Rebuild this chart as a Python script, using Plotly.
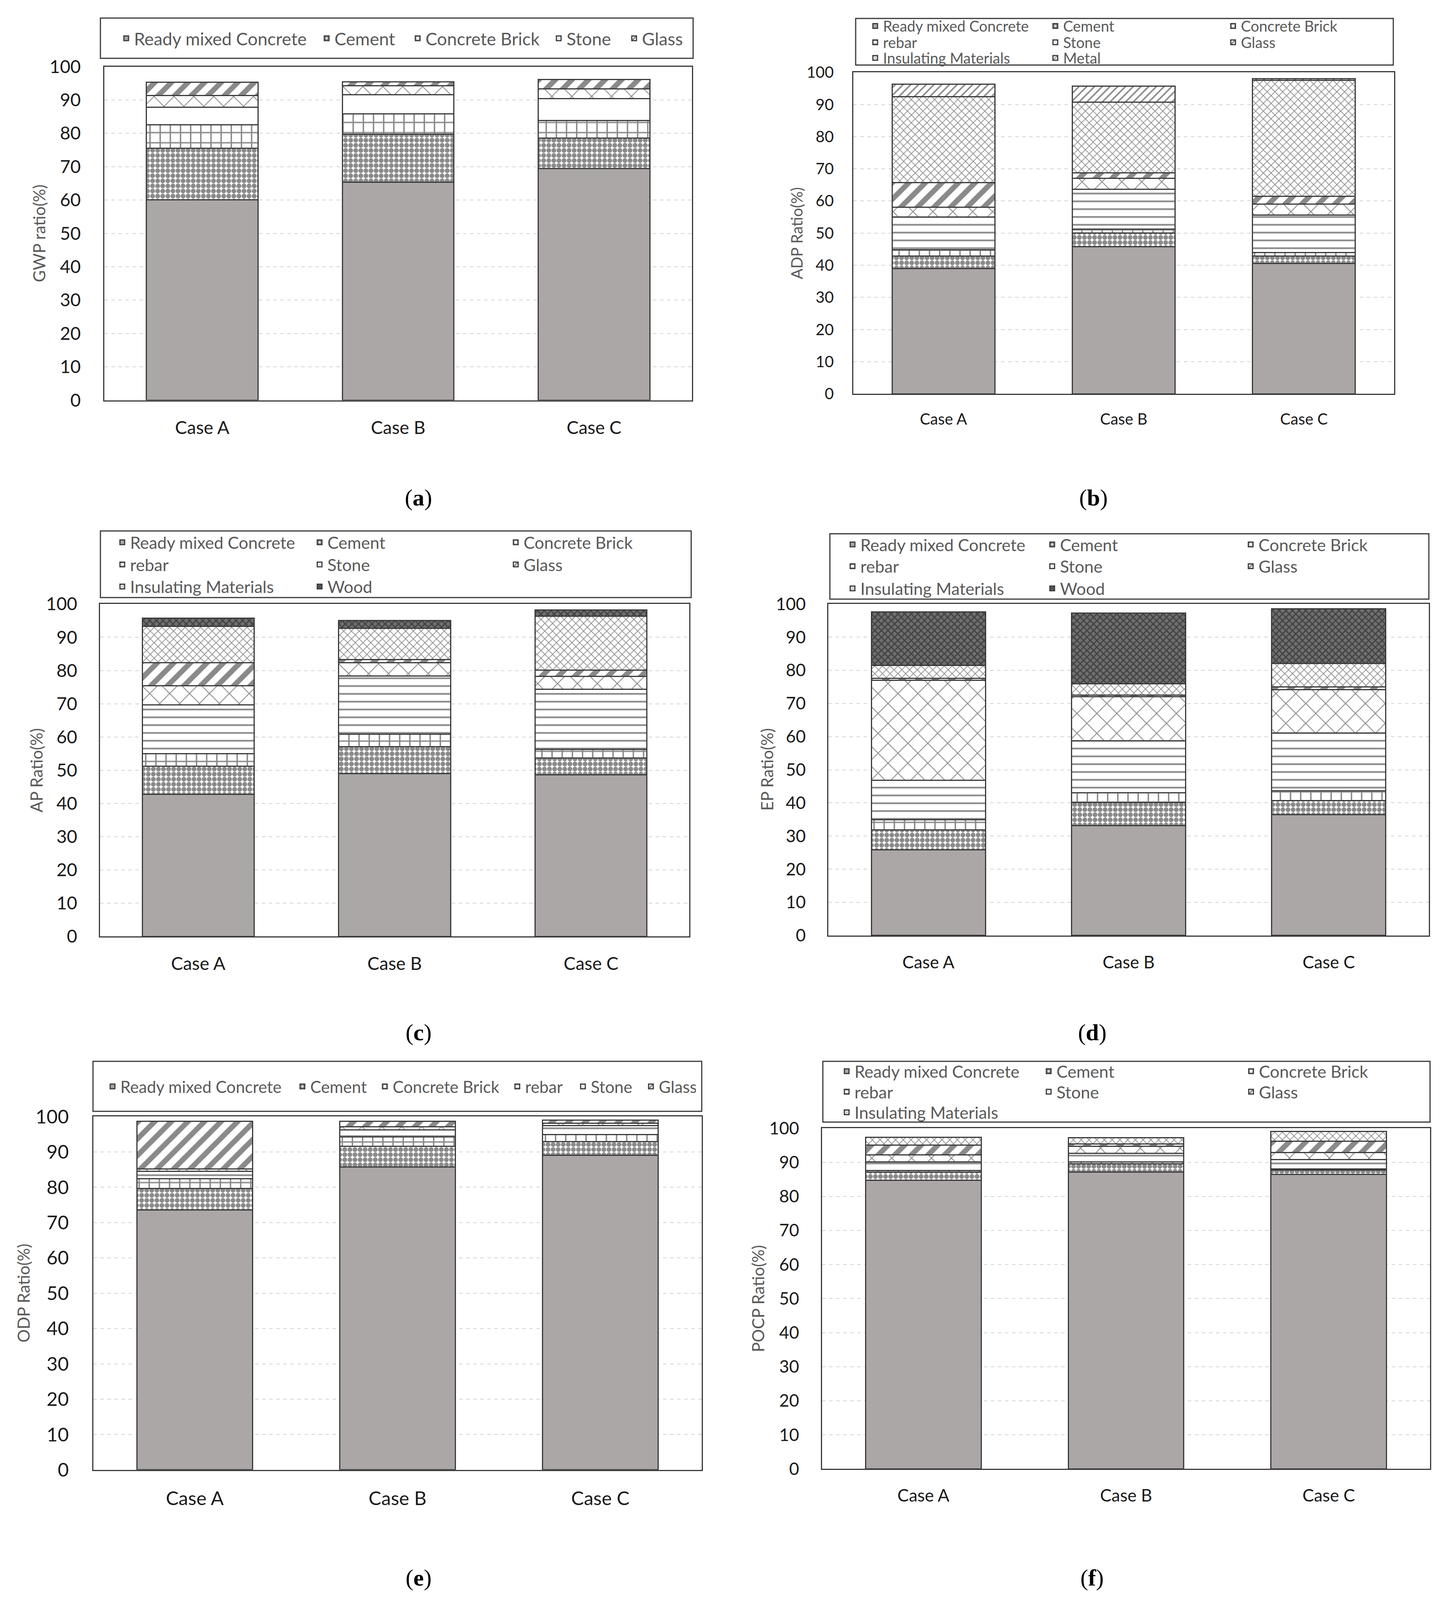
import plotly.graph_objects as go

W, H = 3706, 5213
cases = ["Case A", "Case B", "Case C"]

# ---------------- data (%) ----------------
gwp = {
    "Ready mixed Concrete": [60.1, 65.3, 69.5],
    "Cement": [15.4, 14.4, 9.1],
    "Concrete Brick": [7.1, 6.1, 5.3],
    "rebar": [5.2, 5.8, 6.5],          # white band, not listed in legend (a)
    "Stone": [3.5, 2.7, 2.9],
    "Glass": [4.0, 1.1, 2.8],
}
adp = {
    "Ready mixed Concrete": [39.0, 45.8, 40.6],
    "Cement": [3.8, 4.2, 2.2],
    "Concrete Brick": [2.0, 1.3, 1.2],
    "rebar": [10.2, 12.4, 11.6],
    "Stone": [3.1, 3.3, 3.4],
    "Glass": [7.6, 1.8, 2.5],
    "Insulating Materials": [26.8, 22.0, 36.1],
    "Metal": [3.9, 4.9, 0.4],
}
ap = {
    "Ready mixed Concrete": [42.8, 49.0, 48.6],
    "Cement": [8.4, 8.1, 5.1],
    "Concrete Brick": [3.8, 3.7, 2.6],
    "rebar": [14.7, 17.5, 18.1],
    "Stone": [5.7, 4.0, 3.8],
    "Glass": [6.9, 1.0, 1.9],
    "Insulating Materials": [11.0, 9.4, 16.2],
    "Wood": [2.4, 2.4, 1.9],
}
ep = {
    "Ready mixed Concrete": [25.9, 33.2, 36.5],
    "Cement": [6.0, 6.9, 4.2],
    "Concrete Brick": [3.0, 3.0, 3.0],
    "rebar": [11.9, 15.6, 17.4],
    "Stone": [30.2, 13.3, 13.1],
    "Glass": [0.6, 0.5, 0.8],
    "Insulating Materials": [3.9, 3.4, 7.1],
    "Wood": [16.1, 21.4, 16.5],
}
odp = {
    "Ready mixed Concrete": [73.6, 85.7, 89.1],
    "Cement": [6.0, 5.9, 3.8],
    "Concrete Brick": [2.8, 2.7, 2.0],
    "rebar": [2.1, 1.9, 2.5],
    "Stone": [0.7, 0.9, 0.7],
    "Glass": [13.5, 1.6, 0.9],
}
pocp = {
    "Ready mixed Concrete": [84.7, 87.1, 86.4],
    "Cement": [2.4, 2.4, 1.3],
    "Concrete Brick": [0.5, 0.6, 0.3],
    "rebar": [2.5, 2.5, 2.8],
    "Stone": [2.1, 2.1, 2.1],
    "Glass": [2.8, 0.7, 3.3],
    "Insulating Materials": [2.4, 1.8, 2.9],
}

# ---------------- styles ----------------
INK = "#151515"
def pat(shape, size, solidity, fg=INK):
    return dict(shape=shape, size=size, solidity=solidity, fgcolor=fg, fillmode="overlay")

STYLE = {
    "Ready mixed Concrete": dict(color="#aaa7a6"),
    "Cement": dict(color="white", pattern=pat(".", 13, 0.7)),
    "Concrete Brick": dict(color="white", pattern=pat("+", 26, 0.26)),
    "rebar": dict(color="white", pattern=pat("-", 20, 0.22)),
    "Stone": dict(color="white", pattern=pat("x", 36, 0.12)),
    "Glass": dict(color="white", pattern=pat("/", 30, 0.45)),
    "Insulating Materials": dict(color="white", pattern=pat("x", 14, 0.24)),
    "Metal": dict(color="white", pattern=pat("/", 14, 0.28)),
    "Wood": dict(color="#6f6f6f", pattern=pat("x", 12, 0.45, "#151515")),
}
PLAIN_WHITE = dict(color="white")

# ---------------- panel layout (pixel positions in the 3706x5213 frame) ----------------
panels = [
    dict(data=gwp, title="GWP ratio(%)", rect=(267, 1771, 217, 1304), tick=46, tls=48, tx=100,
         box=(257, 1774, 59, 190), leg=45, xstart=343,
         rows=[(125, [("Ready mixed Concrete", 468), ("Cement", 188), ("Concrete Brick", 316),
                      ("Stone", 148), ("Glass", 130)])],
         plain=["rebar"], label="a", lab=(1071, 1622)),
    dict(data=adp, title="ADP Ratio(%)", rect=(2184, 3568, 236, 1283), tick=40, tls=39, tx=2039,
         box=(2190, 3566, 60, 212), leg=38, xstart=2260,
         rows=[(85, [("Ready mixed Concrete", 416), ("Cement", 410), ("Concrete Brick", 300)]),
               (138, [("rebar", 416), ("Stone", 410), ("Glass", 300)]),
               (189, [("Insulating Materials", 416), ("Metal", 410)])],
         plain=[], label="b", lab=(2798, 1622)),
    dict(data=ap, title="AP Ratio(%)", rect=(256, 1764, 1968, 3051), tick=46, tls=46, tx=93,
         box=(257, 1769, 1730, 1947), leg=43, xstart=333,
         rows=[(1767, [("Ready mixed Concrete", 460), ("Cement", 457), ("Concrete Brick", 300)]),
               (1839, [("rebar", 460), ("Stone", 457), ("Glass", 300)]),
               (1911, [("Insulating Materials", 460), ("Wood", 457)])],
         plain=[], label="c", lab=(1071, 3364)),
    dict(data=ep, title="EP Ratio(%)", rect=(2120, 3657, 1968, 3048), tick=44, tls=46, tx=1963,
         box=(2124, 3657, 1739, 1952), leg=43, xstart=2202,
         rows=[(1774, [("Ready mixed Concrete", 466), ("Cement", 463), ("Concrete Brick", 300)]),
               (1845, [("rebar", 466), ("Stone", 463), ("Glass", 300)]),
               (1917, [("Insulating Materials", 466), ("Wood", 463)])],
         plain=[], label="d", lab=(2795, 3364)),
    dict(data=odp, title="ODP Ratio(%)", rect=(239, 1796, 3638, 4789), tick=49, tls=50, tx=60,
         box=(238, 1796, 3458, 3621), leg=42, xstart=308,
         rows=[(3540, [("Ready mixed Concrete", 441), ("Cement", 166), ("Concrete Brick", 294),
                       ("rebar", 123), ("Stone", 129), ("Glass", 90)])],
         plain=[], label="e", lab=(1071, 5140)),
    dict(data=pocp, title="POCP Ratio(%)", rect=(2104, 3660, 3676, 4786), tick=44, tls=47, tx=1940,
         box=(2106, 3660, 3458, 3656), leg=43, xstart=2187,
         rows=[(3490, [("Ready mixed Concrete", 472), ("Cement", 473), ("Concrete Brick", 300)]),
               (3557, [("rebar", 472), ("Stone", 473), ("Glass", 300)]),
               (3624, [("Insulating Materials", 472)])],
         plain=[], label="f", lab=(2795, 5140)),
]

FONT = "Lato"
fig = go.Figure()
layout = dict(
    autosize=True, margin=dict(l=0, r=0, t=0, b=0, autoexpand=False),
    paper_bgcolor="white", plot_bgcolor="white",
    barmode="stack", bargap=0.43,
    font=dict(family=FONT, color="#1a1a1a"),
    shapes=[], annotations=[],
)

legend_count = 0
for i, p in enumerate(panels):
    sfx = "" if i == 0 else str(i + 1)
    x0, x1, y0, y1 = p["rect"]
    mat_legend = {}
    for (ry, entries) in p["rows"]:
        legend_count += 1
        lid = "legend" if legend_count == 1 else f"legend{legend_count}"
        layout[lid] = dict(
            x=(p["xstart"] - 40) / W, xanchor="left",
            y=1 - ry / H, yanchor="middle",
            orientation="h", bgcolor="rgba(0,0,0,0)", borderwidth=0,
            font=dict(family=FONT, size=p["leg"], color="#595959"),
            traceorder="normal",
        )
        for name, lw in entries:
            mat_legend[name] = (lid, lw)
    for name, vals in p["data"].items():
        st = PLAIN_WHITE if name in p["plain"] else STYLE[name]
        marker = dict(color=st["color"], line=dict(color="#3a3a3a", width=3))
        if "pattern" in st:
            marker["pattern"] = st["pattern"]
        kw = {}
        if name in mat_legend:
            kw["legend"] = mat_legend[name][0]
            kw["legendwidth"] = mat_legend[name][1]
        else:
            kw["showlegend"] = False
        fig.add_trace(go.Bar(x=cases, y=vals, name=name, marker=marker,
                             xaxis="x" + sfx, yaxis="y" + sfx, **kw))
    layout["xaxis" + sfx] = dict(
        domain=[x0 / W, x1 / W], anchor="y" + sfx, type="category",
        showline=True, mirror=True, linecolor="#3a3a3a", linewidth=3,
        ticks="", showgrid=False, ticklabelstandoff=28,
        tickfont=dict(family=FONT, size=p["tick"], color="#1a1a1a"),
    )
    layout["yaxis" + sfx] = dict(
        domain=[1 - y1 / H, 1 - y0 / H], anchor="x" + sfx,
        range=[0, 100], dtick=10, tick0=0,
        showline=True, mirror=True, linecolor="#3a3a3a", linewidth=3,
        ticks="", zeroline=False, ticklabelstandoff=p["tls"],
        showgrid=True, gridcolor="#d4d4d4", griddash="dash", gridwidth=2,
        tickfont=dict(family=FONT, size=p["tick"], color="#1a1a1a"),
    )
    layout["annotations"].append(dict(
        text=p["title"], xref="paper", yref="paper",
        x=p["tx"] / W, y=1 - ((y0 + y1) / 2) / H, xanchor="center", yanchor="middle",
        textangle=-90, showarrow=False,
        font=dict(family=FONT, size=42 if i != 1 else 40, color="#595959"),
    ))
    bx0, bx1, by0, by1 = p["box"]
    layout["shapes"].append(dict(
        type="rect", xref="paper", yref="paper",
        x0=bx0 / W, x1=bx1 / W, y0=1 - by1 / H, y1=1 - by0 / H,
        line=dict(color="#3a3a3a", width=3), fillcolor="rgba(0,0,0,0)",
    ))
    lx, ly = p["lab"]
    layout["annotations"].append(dict(
        text=f"(<b>{p['label']}</b>)", xref="paper", yref="paper",
        x=lx / W, y=1 - ly / H, xanchor="center", yanchor="middle",
        showarrow=False, font=dict(family="Liberation Serif", size=60, color="black"),
    ))

fig.update_layout(**layout)
fig.write_html(
    "out.html",
    config={"displayModeBar": False},
    default_width="100vw",
    default_height="100vh",
    post_script="document.body.style.margin='0';document.body.style.overflow='hidden';",
)
